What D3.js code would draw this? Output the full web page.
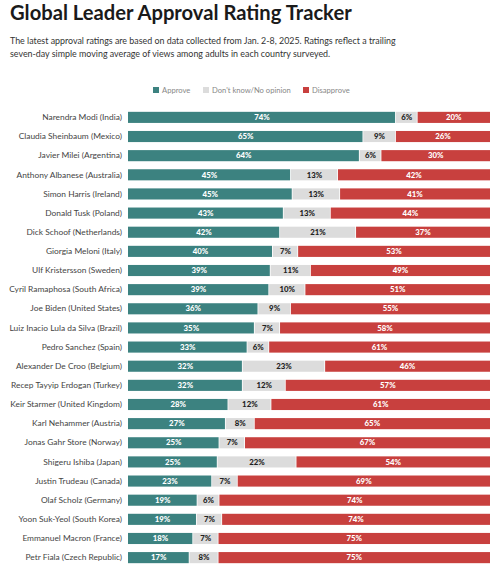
<!DOCTYPE html>
<html><head><meta charset="utf-8">
<script src="https://cdn.jsdelivr.net/npm/d3@7"></script>
<style>body{margin:0;background:#fff;}svg{display:block;font-family:Lato,"Open Sans",sans-serif;}</style>
</head><body>
<script>
const leaders = ["Narendra Modi (India)","Claudia Sheinbaum (Mexico)","Javier Milei (Argentina)","Anthony Albanese (Australia)","Simon Harris (Ireland)","Donald Tusk (Poland)","Dick Schoof (Netherlands)","Giorgia Meloni (Italy)","Ulf Kristersson (Sweden)","Cyril Ramaphosa (South Africa)","Joe Biden (United States)","Luiz Inacio Lula da Silva (Brazil)","Pedro Sanchez (Spain)","Alexander De Croo (Belgium)","Recep Tayyip Erdogan (Turkey)","Keir Starmer (United Kingdom)","Karl Nehammer (Austria)","Jonas Gahr Store (Norway)","Shigeru Ishiba (Japan)","Justin Trudeau (Canada)","Olaf Scholz (Germany)","Yoon Suk-Yeol (South Korea)","Emmanuel Macron (France)","Petr Fiala (Czech Republic)"];
const approve    = [74,65,64,45,45,43,42,40,39,39,36,35,33,32,32,28,27,25,25,23,19,19,18,17];
const dontKnow   = [6,9,6,13,13,13,21,7,11,10,9,7,6,23,12,12,8,7,22,7,6,7,7,8];
const disapprove = [20,26,30,42,41,44,37,53,49,51,55,58,61,46,57,61,65,67,54,69,74,74,75,75];
const seriesNames = ["Approve","Don't know/No opinion","Disapprove"];
const colors = ["#3c8280","#dcdcdc","#c8403e"];
const labelColors = ["#ffffff","#222222","#ffffff"];

const W = 500, H = 568;
const svg = d3.select("body").append("svg").attr("width", W).attr("height", H);

svg.append("text").attr("x", 10).attr("y", 20).attr("font-size", 20.2).attr("font-weight", 700)
  .attr("fill", "#1a1a1a").attr("font-family","Lato,sans-serif").text("Global Leader Approval Rating Tracker");
svg.append("text").attr("x", 10).attr("y", 44).attr("font-size", 8.9).attr("fill", "#333")
  .text("The latest approval ratings are based on data collected from Jan. 2-8, 2025. Ratings reflect a trailing");
svg.append("text").attr("x", 10).attr("y", 57).attr("font-size", 8.9).attr("fill", "#333")
  .text("seven-day simple moving average of views among adults in each country surveyed.");

// legend
const legX = [153, 203, 303];
const leg = svg.append("g");
seriesNames.forEach((n, i) => {
  leg.append("rect").attr("x", legX[i]).attr("y", 87).attr("width", 6).attr("height", 6).attr("fill", colors[i]);
  leg.append("text").attr("x", legX[i] + 9).attr("y", 93).attr("font-size", 7.6).attr("fill", "#888").text(n);
});

const rows = leaders.map((l, i) => {
  const tot = approve[i] + dontKnow[i] + disapprove[i];
  return {leader: l, vals: [approve[i], dontKnow[i], disapprove[i]], tot};
});

const x = d3.scaleLinear().domain([0, 1]).range([128, 490]);
const y = d3.scaleBand().domain(leaders).range([108, 567]).paddingInner(0.42).paddingOuter(0.2);

const g = svg.append("g");
rows.forEach(r => {
  let cum = 0;
  const gy = y(r.leader);
  r.vals.forEach((v, k) => {
    const x0 = x(cum / r.tot), x1 = x((cum + v) / r.tot);
    g.append("rect").attr("x", x0).attr("y", gy).attr("width", Math.max(0, x1 - x0 - (k < 2 ? 0.8 : 0)))
      .attr("height", y.bandwidth()).attr("fill", colors[k]);
    g.append("text").attr("x", (x0 + x1) / 2).attr("y", gy + y.bandwidth() / 2 + 2.7)
      .attr("text-anchor", "middle").attr("font-size", 7.8).attr("font-weight", 900)
      .attr("fill", labelColors[k]).text(v + "%");
    cum += v;
  });
});

const yAxis = d3.axisLeft(y).tickSize(0).tickPadding(6);
const ax = svg.append("g").attr("transform", "translate(128,0)").call(yAxis);
ax.select(".domain").remove();
ax.selectAll("text").attr("font-size", 8.4).attr("fill", "#444").attr("font-family", "Lato,sans-serif");
</script>
</body></html>
